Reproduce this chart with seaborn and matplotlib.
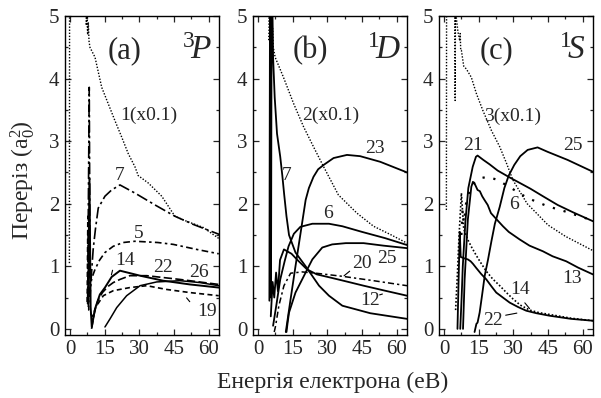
import matplotlib
matplotlib.use("Agg")
import matplotlib.pyplot as plt
import seaborn as sns
from matplotlib.ticker import MultipleLocator

# ---------------- data: panel (a) 3P ----------------
A1_X = [-0.3, -0.2, 6.8, 7.0, 7.3, 7.6, 7.9, 8.2, 8.6, 10.8, 13.7, 16.5, 19.4, 22.3, 25.2, 28.1, 29.5, 33.9, 39.7, 45.4, 50.5, 57.7, 64.6]
A1_Y = [1.05, 6.0, 6.0, 4.85, 5.0, 4.7, 4.9, 4.6, 4.5, 4.34, 3.86, 3.60, 3.33, 3.07, 2.80, 2.59, 2.45, 2.33, 2.12, 1.80, 1.72, 1.62, 1.44]
A7_X = [7.6, 8.3, 8.7, 9.3, 10.0, 11.0, 12.2, 15.1, 18.0, 21.6, 28.1, 36.8, 45.4, 53.3, 64.6]
A7_Y = [0.4, 3.86, 0.55, 0.9, 1.27, 1.6, 1.93, 2.12, 2.22, 2.30, 2.17, 1.98, 1.80, 1.67, 1.51]
A5_X = [7.9, 8.6, 9.5, 10.8, 12.8, 15.1, 18.7, 23.0, 28, 33.2, 38, 44.7, 54.8, 64.4]
A5_Y = [0.35, 0.66, 0.82, 0.95, 1.1, 1.22, 1.32, 1.38, 1.40, 1.39, 1.38, 1.35, 1.27, 1.20]
A14_X = [7.8, 8.4, 8.9, 9.4, 10.8, 12.9, 15.1, 18.0, 21.6, 30.3, 40.3, 51.9, 64.4]
A14_Y = [0.4, 2.4, 0.35, 0.03, 0.32, 0.55, 0.66, 0.83, 0.93, 0.85, 0.77, 0.71, 0.66]
A22_X = [9.3, 10.5, 12.0, 14.0, 16.5, 18.7, 21.6, 25.9, 33.2, 47.6, 64.4]
A22_Y = [0.0, 0.25, 0.45, 0.58, 0.68, 0.74, 0.79, 0.85, 0.85, 0.79, 0.71]
A26_X = [15.1, 17.3, 20.2, 24.5, 30.3, 37.5, 47.6, 56.2, 64.4]
A26_Y = [0.03, 0.16, 0.34, 0.53, 0.69, 0.75, 0.77, 0.74, 0.69]
A19_X = [7.4, 7.7, 8.1, 9.6, 11.5, 14.4, 18.7, 25.9, 33.2, 41.8, 51.9, 64.4]
A19_Y = [0.43, 1.80, 0.3, 0.2, 0.37, 0.53, 0.61, 0.66, 0.69, 0.63, 0.58, 0.53]

# ---------------- data: panel (b) 1D ----------------
B2_X = [4.4, 4.8, 5.3, 5.8, 6.3, 6.6, 7.4, 11.0, 15.4, 19.7, 24.0, 28.4, 34.8, 42.8, 50.0, 57.2, 64.5]
B2_Y = [6.0, 4.6, 5.0, 4.55, 4.8, 4.5, 4.34, 4.02, 3.60, 3.23, 2.91, 2.59, 2.14, 1.85, 1.64, 1.51, 1.37]
B7_X = [4.9, 5.2, 5.6, 5.9, 6.5, 7.2, 8.2, 9.6, 10.5, 11.3, 12.3, 13.4, 16.2, 20.6, 26.4, 30.7, 36.5, 48.6, 64.5]
B7_Y = [0.45, 6.0, 0.5, 6.0, 4.34, 3.7, 3.12, 2.75, 2.45, 2.15, 1.8, 1.5, 1.22, 1.0, 0.69, 0.53, 0.37, 0.25, 0.16]
B23_X = [12.0, 12.6, 14.1, 16.2, 18.4, 20.6, 22.0, 24.0, 26, 28.4, 32.7, 38.5, 44.2, 52.9, 64.5]
B23_Y = [-0.05, 0.1, 0.48, 1.0, 1.53, 2.06, 2.25, 2.43, 2.55, 2.62, 2.73, 2.78, 2.76, 2.67, 2.50]
B6_X = [6.5, 8.0, 9.6, 11.5, 13.2, 15.5, 18.3, 23.5, 30.7, 36.5, 45, 55, 64.5]
B6_Y = [0.05, 0.4, 0.79, 1.08, 1.32, 1.52, 1.63, 1.68, 1.68, 1.64, 1.55, 1.45, 1.34]
B25_X = [12.3, 12.8, 13.4, 16.2, 20.6, 23.5, 27.8, 32.1, 38, 45.7, 54.3, 64.5]
B25_Y = [-0.05, 0.1, 0.26, 0.58, 0.9, 1.11, 1.30, 1.35, 1.37, 1.37, 1.33, 1.29]
B20_X = [7.0, 7.6, 9.0, 11.2, 14.1, 19.1, 25, 36.5, 50.0, 64.5]
B20_Y = [-0.05, 0.05, 0.37, 0.69, 0.89, 0.91, 0.89, 0.84, 0.77, 0.69]
B12_X = [5.5, 6.3, 7.0, 7.8, 8.6, 9.5, 10.5, 11.2, 12.6, 14.5, 16.8, 21.2, 25.5, 31.3, 38, 45.7, 55, 64.5]
B12_Y = [0.2, 0.75, 0.5, 0.9, 0.6, 1.1, 1.2, 1.27, 1.24, 1.2, 1.11, 0.95, 0.87, 0.82, 0.76, 0.69, 0.61, 0.53]

# ---------------- data: panel (c) 1S ----------------
C3_X = [1.0, 1.1, 4.6, 4.8, 5.0, 5.3, 6.0, 6.8, 7.0, 7.2, 7.5, 8.5, 9.7, 11.8, 14.0, 16.8, 20.5, 24.1, 27.0, 29.8, 32.7, 36, 40, 45, 52.5, 64.5]
C3_Y = [1.9, 6.0, 6.0, 3.65, 6.0, 4.97, 4.75, 4.6, 4.72, 4.45, 4.45, 4.2, 4.15, 4.02, 3.76, 3.49, 3.17, 2.91, 2.65, 2.38, 2.2, 2.0, 1.85, 1.66, 1.48, 1.25]
C25_X = [13.2, 14.0, 14.5, 15.4, 16.5, 17.6, 19, 20.5, 22, 24.1, 26.1, 28, 30.4, 33, 36.2, 40.5, 44.8, 53.5, 64.5]
C25_Y = [-0.05, 0.08, 0.1, 0.26, 0.55, 0.85, 1.1, 1.4, 1.68, 1.95, 2.25, 2.45, 2.62, 2.76, 2.86, 2.90, 2.83, 2.70, 2.51]
C21_X = [7.0, 7.6, 8.1, 9.2, 10.5, 12.4, 13.8, 14.5, 17, 19.7, 23.2, 28.4, 37.4, 42.8, 49.2, 56, 64.5]
C21_Y = [0.0, 0.5, 1.0, 1.7, 2.25, 2.59, 2.75, 2.77, 2.70, 2.63, 2.53, 2.42, 2.24, 2.12, 1.98, 1.86, 1.72]
C13_X = [8.2, 8.9, 10.3, 11.8, 12.5, 13.5, 14.5, 15.5, 16.5, 17.5, 18.9, 20.3, 22.5, 25.5, 28, 32.7, 37, 42.8, 47, 52.9, 58, 64.5]
C13_Y = [0.0, 0.79, 1.75, 2.27, 2.35, 2.3, 2.22, 2.2, 2.12, 2.06, 1.98, 1.85, 1.76, 1.64, 1.55, 1.43, 1.33, 1.24, 1.16, 1.08, 0.98, 0.87]
C6_X = [7.5, 8.0, 8.6, 9.5, 11, 13.1, 16, 18.9, 23.2, 30.4, 36.2, 44.8, 52.1, 64.5]
C6_Y = [1.5, 1.9, 1.7, 2.0, 2.2, 2.33, 2.41, 2.43, 2.38, 2.22, 2.09, 1.96, 1.88, 1.73]
C22_X = [5.8, 6.3, 6.8, 7.2, 8.5, 10.3, 11.5, 12.5, 14, 16, 18.3, 20.5, 22.6, 25.5, 28.4, 32, 35.6, 40, 45.7, 55, 64.5]
C22_Y = [0.0, 0.8, 1.55, 1.15, 1.13, 1.11, 1.08, 1.04, 0.97, 0.88, 0.79, 0.68, 0.58, 0.5, 0.42, 0.35, 0.29, 0.25, 0.21, 0.16, 0.13]
C14_X = [5.0, 5.8, 6.5, 7.5, 8.5, 10.2, 12, 14, 16, 18.3, 21, 24.1, 27, 29.8, 33, 37.1, 41, 45.7, 55, 64.5]
C14_Y = [0.3, 0.9, 1.5, 2.17, 1.6, 1.43, 1.3, 1.17, 1.05, 0.92, 0.8, 0.69, 0.58, 0.48, 0.38, 0.30, 0.26, 0.23, 0.17, 0.13]

X_TICKS = [0, 15, 30, 45, 60]
Y_TICKS = [0, 1, 2, 3, 4, 5]

# ---------------- style ----------------
sns.set_theme(style="ticks")
plt.rcParams['font.family'] = ['Liberation Serif', 'DejaVu Serif']
plt.rcParams['mathtext.fontset'] = 'custom'
plt.rcParams['mathtext.rm'] = 'Liberation Serif'
plt.rcParams['mathtext.it'] = 'Liberation Serif:italic'

DOT = (0, (1, 1.2))
DASHDOT_LONG = (0, (7, 2, 1.5, 2))
DASHDOT = (0, (4, 2, 1.5, 2))
DASH_LONG = (0, (5, 2))
DASH_SHORT = (0, (3, 2))
SPARSE_DOT = (0, (1, 4))

fig = plt.figure(figsize=(6.01, 3.98), dpi=100)
lefts = [65 / 601, 253 / 601, 439 / 601]
W = 154 / 601
B = 1 - 334.5 / 398
H = (334.5 - 16) / 398
axes = [fig.add_axes([l, B, W, H]) for l in lefts]

def curve(ax, x, y, ls='-', lw=1.2):
    sns.lineplot(x=x, y=y, ax=ax, sort=False, estimator=None, color='black',
                 linestyle=ls, linewidth=lw)

ax = axes[0]
curve(ax, A1_X, A1_Y, DOT, 1.0)
curve(ax, A7_X, A7_Y, DASHDOT_LONG)
curve(ax, A5_X, A5_Y, DASHDOT)
curve(ax, A14_X, A14_Y, '-', 1.4)
curve(ax, A22_X, A22_Y, DASH_LONG)
curve(ax, A26_X, A26_Y, '-', 1.1)
curve(ax, A19_X, A19_Y, DASH_SHORT)

ax = axes[1]
curve(ax, B2_X, B2_Y, DOT, 1.0)
curve(ax, B7_X, B7_Y, '-', 1.3)
curve(ax, B23_X, B23_Y, '-', 1.3)
curve(ax, B6_X, B6_Y, '-', 1.3)
curve(ax, B25_X, B25_Y, '-', 1.3)
curve(ax, B20_X, B20_Y, DASHDOT, 1.1)
curve(ax, B12_X, B12_Y, '-', 1.3)

ax = axes[2]
curve(ax, C3_X, C3_Y, DOT, 1.0)
curve(ax, C25_X, C25_Y, '-', 1.3)
curve(ax, C21_X, C21_Y, '-', 1.3)
curve(ax, C13_X, C13_Y, '-', 1.3)
curve(ax, C6_X, C6_Y, SPARSE_DOT, 1.6)
curve(ax, C22_X, C22_Y, '-', 1.3)
curve(ax, C14_X, C14_Y, DOT, 1.2)

for ax in axes:
    ax.set_xlim(-2.2, 64.5)
    ax.set_ylim(-0.09, 5.0)
    ax.set_xticks(X_TICKS)
    ax.set_yticks(Y_TICKS)
    ax.xaxis.set_minor_locator(MultipleLocator(7.5))
    ax.yaxis.set_minor_locator(MultipleLocator(0.5))
    ax.tick_params(which='both', direction='in', top=True, right=True,
                   width=0.9, labelsize=15, pad=4)
    ax.tick_params(which='major', length=4.5)
    ax.tick_params(which='minor', length=2.5)
    for s in ax.spines.values():
        s.set_linewidth(1.0)
        s.set_color('black')
    ax.set_xlabel('')
    ax.set_ylabel('')

LBL = 14
# panel (a) labels
ax = axes[0]
ax.text(23.5, 4.45, '(a)', fontsize=22, ha='center', va='center')
ax.text(55, 4.45, r'$^{3}\!P$', fontsize=24, ha='center', va='center')
ax.text(34.2, 3.41, '1(x0.1)', fontsize=LBL, ha='center', va='center')
ax.text(21.6, 2.45, '7', fontsize=LBL, ha='center', va='center')
ax.text(29.5, 1.52, '5', fontsize=LBL, ha='center', va='center')
ax.text(23.8, 1.10, '14', fontsize=LBL, ha='center', va='center')
ax.text(40.3, 0.98, '22', fontsize=LBL, ha='center', va='center')
ax.text(55.9, 0.90, '26', fontsize=LBL, ha='center', va='center')
ax.text(59.1, 0.27, '19', fontsize=LBL, ha='center', va='center')
ax.annotate('', xy=(52.6, 0.40), xytext=(49.7, 0.53),
            arrowprops=dict(arrowstyle='-', lw=0.8, color='black'))
ax.annotate('', xy=(17.6, 0.82), xytext=(18.7, 0.98),
            arrowprops=dict(arrowstyle='-', lw=0.8, color='black'))

# panel (b) labels
ax = axes[1]
ax.text(22.5, 4.45, '(b)', fontsize=22, ha='center', va='center')
ax.text(54.5, 4.45, r'$^{1}\!D$', fontsize=24, ha='center', va='center')
ax.text(31.6, 3.41, '2(x0.1)', fontsize=LBL, ha='center', va='center')
ax.text(50.7, 2.88, '23', fontsize=LBL, ha='center', va='center')
ax.text(12.5, 2.45, '7', fontsize=LBL, ha='center', va='center')
ax.text(30.3, 1.85, '6', fontsize=LBL, ha='center', va='center')
ax.text(45.0, 1.05, '20', fontsize=LBL, ha='center', va='center')
ax.text(55.8, 1.13, '25', fontsize=LBL, ha='center', va='center')
ax.text(48.6, 0.45, '12', fontsize=LBL, ha='center', va='center')
ax.annotate('', xy=(36.3, 0.82), xytext=(40.6, 0.95),
            arrowprops=dict(arrowstyle='-', lw=0.8, color='black'))
ax.annotate('', xy=(55.0, 0.57), xytext=(51.5, 0.53),
            arrowprops=dict(arrowstyle='-', lw=0.8, color='black'))

# panel (c) labels
ax = axes[2]
ax.text(22.6, 4.45, '(c)', fontsize=22, ha='center', va='center')
ax.text(55.8, 4.45, r'$^{1}\!S$', fontsize=24, ha='center', va='center')
ax.text(29.7, 3.39, '3(x0.1)', fontsize=LBL, ha='center', va='center')
ax.text(12.5, 2.93, '21', fontsize=LBL, ha='center', va='center')
ax.text(55.8, 2.93, '25', fontsize=LBL, ha='center', va='center')
ax.text(30.4, 1.98, '6', fontsize=LBL, ha='center', va='center')
ax.text(55.4, 0.80, '13', fontsize=LBL, ha='center', va='center')
ax.text(32.7, 0.63, '14', fontsize=LBL, ha='center', va='center')
ax.text(21.2, 0.13, '22', fontsize=LBL, ha='center', va='center')
ax.annotate('', xy=(37.8, 0.29), xytext=(34.2, 0.45),
            arrowprops=dict(arrowstyle='-', lw=0.8, color='black'))
ax.annotate('', xy=(32.7, 0.26), xytext=(25.5, 0.21),
            arrowprops=dict(arrowstyle='-', lw=0.8, color='black'))

fig.text(0.553, 0.04, 'Енергія електрона (еВ)', fontsize=17, ha='center', va='center')
fig.text(0.037, 0.548, r'Переріз ($\mathrm{a}_0^2$)', fontsize=17, ha='center',
         va='center', rotation=90)

fig.savefig('out.png', dpi=100)
